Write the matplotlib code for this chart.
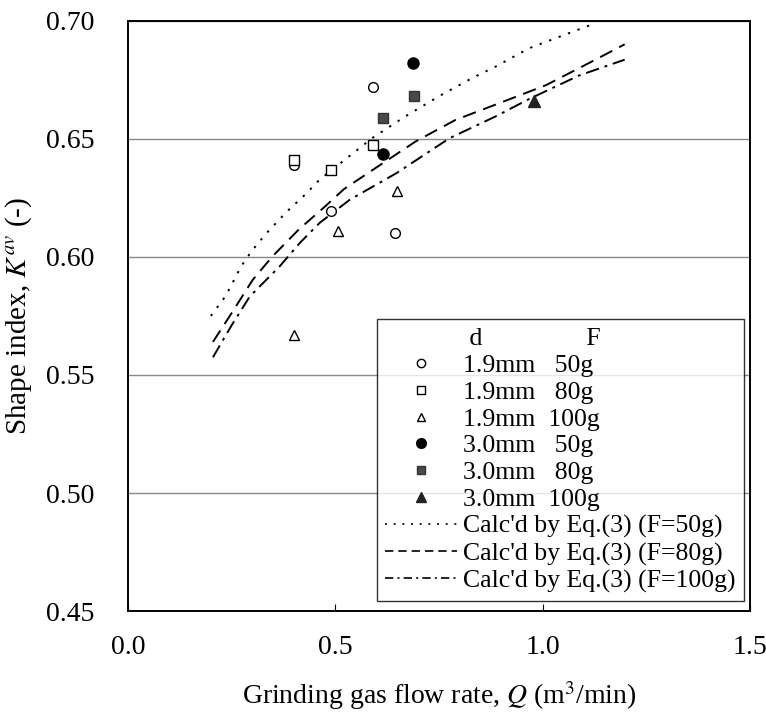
import numpy as np
import matplotlib
matplotlib.use("Agg")
import matplotlib.pyplot as plt
from matplotlib.lines import Line2D

plt.rcParams["font.family"] = ["Liberation Serif", "DejaVu Serif"]
plt.rcParams["mathtext.fontset"] = "stix"

# measured points: (Q, K_av)
q_19_50 = [0.40, 0.49, 0.59, 0.645]
k_19_50 = [0.639, 0.6195, 0.672, 0.610]
q_19_80 = [0.40, 0.49, 0.59]
k_19_80 = [0.641, 0.6366, 0.6475]
q_19_100 = [0.40, 0.507, 0.649]
k_19_100 = [0.567, 0.611, 0.628]
q_30_50 = [0.615, 0.688]
k_30_50 = [0.6435, 0.682]
q_30_80 = [0.614, 0.689]
k_30_80 = [0.659, 0.668]
q_30_100 = [0.98]
k_30_100 = [0.666]

# Eq.(3) curves
q_c50 = [0.20, 0.236, 0.273, 0.298, 0.334, 0.382, 0.430, 0.461, 0.525, 0.589,
         0.669, 0.75, 0.83, 0.887, 0.967, 1.048, 1.128]
k_c50 = [0.575, 0.5835, 0.596, 0.6024, 0.610, 0.619, 0.6268, 0.6325, 0.6414, 0.6503,
         0.6595, 0.668, 0.6757, 0.6806, 0.6883, 0.6937, 0.699]
q_c80 = [0.205, 0.253, 0.301, 0.349, 0.412, 0.477, 0.521, 0.597, 0.694, 0.79,
         0.887, 1.008, 1.1, 1.198]
k_c80 = [0.564, 0.577, 0.5903, 0.6003, 0.6116, 0.6216, 0.6287, 0.6376, 0.6489, 0.658,
         0.6645, 0.6727, 0.681, 0.690]
q_c100 = [0.205, 0.25, 0.294, 0.366, 0.415, 0.463, 0.535, 0.648, 0.776, 0.887,
          0.967, 1.088, 1.198]
k_c100 = [0.5575, 0.571, 0.5833, 0.596, 0.606, 0.6145, 0.6242, 0.6355, 0.6503, 0.6595,
          0.6668, 0.6768, 0.6835]

fig = plt.figure(figsize=(7.66, 7.14), dpi=100)
ax = fig.add_axes([0.167, 0.144, 0.812, 0.827])

ax.plot(q_c50, k_c50, color="black", lw=1.4, ls=(0, (1.2, 4)))
ax.plot(q_c80, k_c80, color="black", lw=1.4, ls=(0, (7, 4)))
ax.plot(q_c100, k_c100, color="black", lw=1.4, ls=(0, (7, 3, 1.5, 3)))

ms = 7
ax.plot(q_19_50, k_19_50, "o", mfc="white", mec="black", ms=ms, mew=1.0)
ax.plot(q_19_80, k_19_80, "s", mfc="white", mec="black", ms=ms, mew=1.0)
ax.plot(q_19_100, k_19_100, "^", mfc="white", mec="black", ms=ms, mew=1.0)
ax.plot(q_30_50, k_30_50, "o", mfc="black", mec="black", ms=ms + 1)
ax.plot(q_30_80, k_30_80, "s", mfc="#4a4a4a", mec="#333333", ms=ms)
ax.plot(q_30_100, k_30_100, "^", mfc="#222222", mec="#222222", ms=ms + 1)

ax.set_xlim(0, 1.5)
ax.set_ylim(0.45, 0.70)
ax.set_xticks([0.0, 0.5, 1.0, 1.5])
ax.set_xticklabels(["0.0", "0.5", "1.0", "1.5"])
ax.set_yticks([0.45, 0.50, 0.55, 0.60, 0.65, 0.70])
ax.set_yticklabels(["0.45", "0.50", "0.55", "0.60", "0.65", "0.70"])
ax.yaxis.grid(True, color="#888888", lw=1.0)
ax.set_axisbelow(True)
ax.tick_params(axis="x", direction="in", length=5, pad=17, labelsize=20)
ax.tick_params(axis="y", length=0, pad=24, labelsize=20)
for s in ax.spines.values():
    s.set_linewidth(1.4)

ax.set_xlabel("Grinding gas flow rate, $Q$ (m$^3$/min)", fontsize=20, labelpad=14)
ax.set_ylabel("Shape index, $K^{av}$ (-)", fontsize=21, labelpad=9)

blank = Line2D([], [], ls="none")
handles = [
    blank,
    Line2D([], [], ls="none", marker="o", mfc="white", mec="black", ms=6),
    Line2D([], [], ls="none", marker="s", mfc="white", mec="black", ms=6),
    Line2D([], [], ls="none", marker="^", mfc="white", mec="black", ms=6),
    Line2D([], [], ls="none", marker="o", mfc="black", mec="black", ms=7),
    Line2D([], [], ls="none", marker="s", mfc="#4a4a4a", mec="#333333", ms=6),
    Line2D([], [], ls="none", marker="^", mfc="#222222", mec="#222222", ms=7),
    Line2D([], [], color="black", lw=1.2, ls=(0, (1.2, 4))),
    Line2D([], [], color="black", lw=1.2, ls=(0, (5, 3))),
    Line2D([], [], color="black", lw=1.2, ls=(0, (5, 2.5, 1.2, 2.5))),
]
labels = [
    " d                F",
    "1.9mm   50g",
    "1.9mm   80g",
    "1.9mm  100g",
    "3.0mm   50g",
    "3.0mm   80g",
    "3.0mm  100g",
    "Calc'd by Eq.(3) (F=50g)",
    "Calc'd by Eq.(3) (F=80g)",
    "Calc'd by Eq.(3) (F=100g)",
]
leg = ax.legend(handles, labels, loc="lower right", bbox_to_anchor=(0.99, 0.018),
                fontsize=18.5, frameon=True, fancybox=False, edgecolor="black",
                handlelength=2.8, handletextpad=0.25, labelspacing=0.15,
                borderpad=0.3, borderaxespad=0.0)
leg.get_frame().set_linewidth(1.0)

fig.savefig("out.png", dpi=100)
